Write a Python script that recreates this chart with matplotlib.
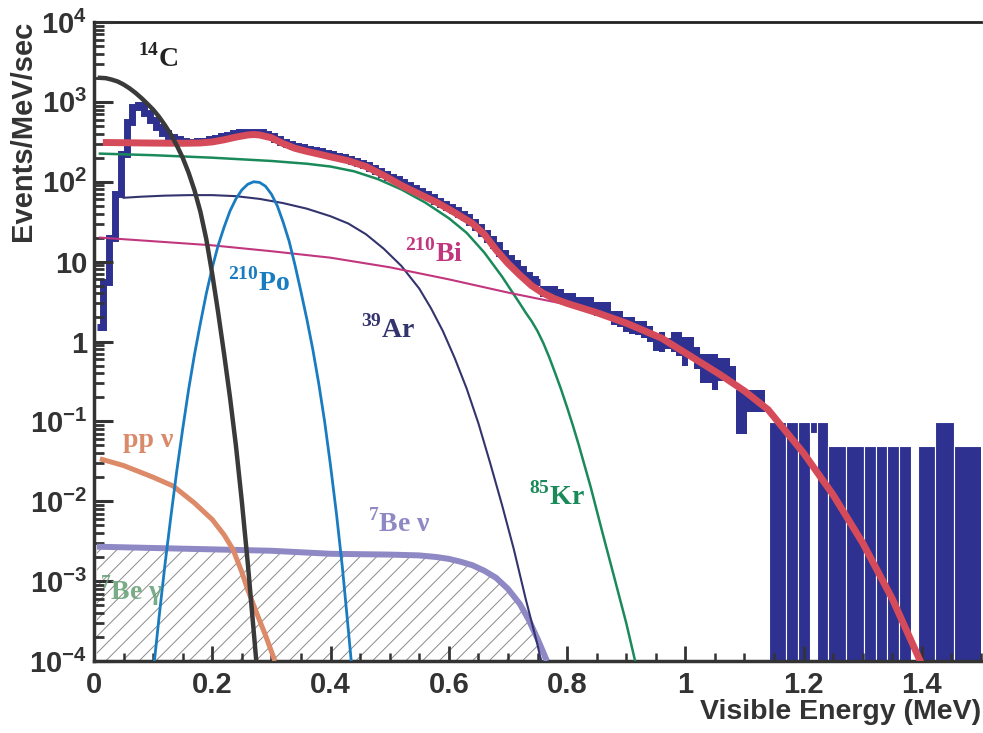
import numpy as np
import matplotlib
matplotlib.use("Agg")
import matplotlib.pyplot as plt
from matplotlib.ticker import LogLocator, NullFormatter, MultipleLocator

plt.rcParams['font.family'] = ['Liberation Sans', 'DejaVu Sans']
plt.rcParams['font.weight'] = 'bold'
plt.rcParams['mathtext.fontset'] = 'custom'
plt.rcParams['mathtext.rm'] = 'Liberation Serif:bold'
plt.rcParams['mathtext.bf'] = 'Liberation Sans:bold'
plt.rcParams['hatch.linewidth'] = 0.7

# --- measured spectrum (0.01 MeV bins, first bin centred at 0.01 MeV) ---
bin_w = 0.01
first_edge = 0.005
hist_val = [1.5, 5.6, 20, 70, 220, 560, 870, 920, 730, 600,
            490, 410, 360, 340, 325, 318, 318, 320, 328, 338,
            352, 370, 388, 405, 418, 425, 425, 418, 400, 375,
            345, 318, 298, 283, 270, 260, 250, 240, 230, 222,
            212, 202, 192, 182, 172, 160, 148, 136, 126, 116,
            107, 98, 90, 83, 76, 70, 64, 58, 53, 48,
            44, 40, 36, 31, 27, 23, 19, 16, 13, 11,
            9.5, 8, 6.8, 6, 5.6]
# bins 0.76 .. 1.13 MeV drawn as error boxes
box_top = [5.0, 4.9, 4.9, 4.5, 4.1, 4.1, 3.6, 3.6, 3.6, 3.1,
           3.1, 3.1, 2.4, 2.4, 2.05, 2.05, 1.8, 1.8, 1.55, 1.15,
           1.33, 1.1, 1.3, 1.3, 1.15, 1.15, 0.85, 0.69, 0.69, 0.69,
           0.63, 0.63, 0.5, 0.25, 0.25, 0.25, 0.25, 0.25]
box_bot = [3.6, 3.5, 3.4, 3.2, 3.0, 2.9, 2.6, 2.5, 2.4, 2.1,
           2.0, 1.9, 1.6, 1.5, 1.3, 1.25, 1.2, 1.1, 1.0, 0.75,
           0.73, 0.8, 0.73, 0.65, 0.5, 0.65, 0.45, 0.3, 0.3, 0.25,
           0.32, 0.32, 0.3, 0.07, 0.07, 0.13, 0.13, 0.13]
# high-energy single-event bins
hi_edges = [1.142, 1.170, 1.191, 1.210, 1.222, 1.241, 1.272, 1.302,
            1.322, 1.341, 1.361, 1.382, 1.394, 1.422, 1.454, 1.503]
hi_top = [0.097, 0.097, 0.097, 0.097, 0.097, 0.049, 0.049, 0.049,
          0.049, 0.049, 0.049, 1e-6, 0.049, 0.097, 0.049]
hi_bot = [1e-6, 1e-6, 1e-6, 0.072, 1e-6, 1e-6, 1e-6, 1e-6,
          1e-6, 1e-6, 1e-6, 1e-6, 1e-6, 1e-6, 1e-6]

# --- fitted components ---
c14_x = [0.01, 0.02, 0.03, 0.04, 0.05, 0.06, 0.07, 0.08, 0.09, 0.10,
         0.11, 0.12, 0.13, 0.14, 0.15, 0.16, 0.17, 0.18, 0.19, 0.20,
         0.21, 0.22, 0.23, 0.24, 0.25, 0.26, 0.27, 0.275]
c14_y = [2000, 1980, 1900, 1800, 1650, 1480, 1300, 1120, 950, 800,
         650, 510, 390, 285, 200, 130, 78, 42, 19, 7,
         2.3, 0.7, 0.2, 0.05, 0.01, 0.0017, 2.4e-4, 9e-5]
po_x = [0.10, 0.11, 0.12, 0.13, 0.14, 0.15, 0.16, 0.17, 0.18, 0.19,
        0.20, 0.21, 0.22, 0.23, 0.24, 0.25, 0.26, 0.27, 0.28, 0.29,
        0.30, 0.31, 0.32, 0.33, 0.34, 0.35, 0.36, 0.37, 0.38, 0.39,
        0.40, 0.41, 0.42, 0.43, 0.44]
po_y = [7e-5, 3.5e-4, 1.6e-3, 6.4e-3, 0.024, 0.08, 0.25, 0.69, 1.7, 4.0,
        8.4, 16, 27, 43, 61, 79, 93, 100, 98, 88,
        70, 50, 31, 18, 9, 4.2, 1.9, 0.8, 0.3, 0.1,
        0.028, 7e-3, 1.5e-3, 2.5e-4, 4e-5]
ar_x = [0.05, 0.08, 0.12, 0.16, 0.20, 0.24, 0.28, 0.32, 0.36, 0.40,
        0.43, 0.46, 0.49, 0.52, 0.55, 0.57, 0.59, 0.61, 0.63, 0.65,
        0.67, 0.69, 0.71, 0.73, 0.75, 0.765]
ar_y = [63, 65, 67, 68, 68, 66, 61, 54, 46, 37,
        30, 22, 14.5, 8.8, 4.6, 2.6, 1.35, 0.62, 0.26, 0.095,
        0.03, 0.009, 0.0025, 6e-4, 1.6e-4, 5e-5]
kr_x = [0.01, 0.10, 0.20, 0.30, 0.36, 0.40, 0.44, 0.48, 0.52, 0.56,
        0.60, 0.63, 0.66, 0.69, 0.72, 0.73, 0.74, 0.75, 0.76, 0.77,
        0.78, 0.79, 0.80, 0.81, 0.82, 0.84, 0.86, 0.88, 0.90, 0.92]
kr_y = [225, 215, 200, 182, 168, 155, 135, 108, 80, 55,
        35, 23, 13, 6.5, 3, 2.3, 1.8, 1.35, 0.95, 0.63,
        0.4, 0.25, 0.15, 0.088, 0.05, 0.015, 0.004, 0.0011, 3e-4, 7e-5]
bi_x = [0.01, 0.1, 0.2, 0.3, 0.4, 0.5, 0.6, 0.7, 0.8, 0.9,
        0.96, 1.0, 1.06, 1.1, 1.14, 1.2, 1.25, 1.3, 1.35, 1.4]
bi_y = [20, 18, 16, 13.5, 11.2, 8.5, 6.0, 4.1, 2.9, 1.7,
        1.1, 0.72, 0.38, 0.24, 0.14, 0.04, 0.012, 0.003, 6e-4, 9e-5]
tot_x = [0.015, 0.05, 0.10, 0.15, 0.18, 0.20, 0.22, 0.24, 0.26, 0.27,
         0.28, 0.30, 0.32, 0.34, 0.36, 0.38, 0.40, 0.43, 0.46, 0.49,
         0.52, 0.55, 0.58, 0.61, 0.64, 0.66, 0.68, 0.70, 0.72, 0.74,
         0.76, 0.78, 0.80, 0.85, 0.90, 0.96, 1.0, 1.06, 1.1, 1.14,
         1.2, 1.25, 1.3, 1.35, 1.4]
tot_y = [310, 308, 305, 303, 306, 315, 335, 362, 385, 390,
         385, 355, 300, 262, 240, 222, 205, 183, 155, 120,
         90, 70, 55, 41, 30, 22, 14, 9.5, 6.8, 5.0,
         4.0, 3.4, 3.0, 2.3, 1.7, 1.1, 0.72, 0.38, 0.24, 0.14,
         0.04, 0.012, 0.003, 6e-4, 9e-5]
pp_x = [0.01, 0.05, 0.10, 0.134, 0.17, 0.20, 0.22, 0.235, 0.25, 0.26,
        0.275, 0.29, 0.306]
pp_y = [0.034, 0.028, 0.02, 0.0155, 0.0095, 0.0059, 0.0038, 0.0025, 0.0013, 7.8e-4,
        4e-4, 2.1e-4, 1e-4]
be_x = [0.005, 0.1, 0.2, 0.3, 0.4, 0.5, 0.55, 0.58, 0.60, 0.62,
        0.64, 0.66, 0.68, 0.70, 0.72, 0.735, 0.75, 0.766]
be_y = [0.0027, 0.0026, 0.0025, 0.0024, 0.0022, 0.00215, 0.0021, 0.002, 0.0019, 0.00175,
        0.00158, 0.00135, 0.0011, 8e-4, 5.2e-4, 3.3e-4, 1.9e-4, 1e-4]

xtick_vals = [0, 0.2, 0.4, 0.6, 0.8, 1.0, 1.2, 1.4]
xtick_labels = ['0', '0.2', '0.4', '0.6', '0.8', '1', '1.2', '1.4']
ytick_vals = [1e-4, 1e-3, 1e-2, 1e-1, 1, 10, 1e2, 1e3, 1e4]
ytick_labels = [r'$\mathbf{10^{-4}}$', r'$\mathbf{10^{-3}}$', r'$\mathbf{10^{-2}}$',
                r'$\mathbf{10^{-1}}$', '1', '10', r'$\mathbf{10^{2}}$',
                r'$\mathbf{10^{3}}$', r'$\mathbf{10^{4}}$']

navy = '#2e3190'
ink = '#333333'

fig = plt.figure(figsize=(9.83, 7.33), dpi=100)
ax = fig.add_axes([0.0956, 0.0982, 0.9024, 0.8718])
ax.set_yscale('log')
ax.set_xlim(0, 1.5)
ax.set_ylim(1e-4, 1e4)

# hatched 7Be gamma region
ax.fill_between(be_x, 1e-4, be_y, facecolor='none', edgecolor='#8a8a8a',
                hatch='//', linewidth=0, zorder=1)

# histogram
n = len(hist_val)
edges = first_edge + bin_w * np.arange(n + 1)
ax.stairs(hist_val, edges, baseline=None, color=navy, linewidth=5, zorder=2)
box_left = edges[-1] + bin_w * np.arange(len(box_top))
ax.bar(box_left, np.array(box_top) - np.array(box_bot), bottom=box_bot,
       width=bin_w, align='edge', color=navy, linewidth=0, zorder=2)
hi_e = np.array(hi_edges)
ax.bar(hi_e[:-1], np.array(hi_top) - np.array(hi_bot), bottom=hi_bot,
       width=np.diff(hi_e), align='edge', color=navy, edgecolor='white',
       linewidth=0.8, zorder=2)

# components
ax.plot(be_x, be_y, color='#8e88c4', lw=4.3, zorder=3, solid_capstyle='butt')
ax.plot(pp_x, pp_y, color='#dd8a68', lw=3.6, zorder=3, solid_capstyle='butt')
ax.plot(kr_x, kr_y, color='#1b8a5a', lw=1.8, zorder=3)
ax.plot(ar_x, ar_y, color='#33336e', lw=1.5, zorder=3)
ax.plot(bi_x, bi_y, color='#c2367e', lw=1.5, zorder=3)
ax.plot(po_x, po_y, color='#1a7cc0', lw=2.0, zorder=3)
ax.plot(tot_x, tot_y, color='#d64b5a', lw=5, zorder=4, solid_capstyle='butt')
ax.plot(c14_x, c14_y, color='#3a3a3a', lw=3.2, zorder=5)

lab = dict(family='Liberation Serif', weight='bold', fontsize=20,
           ha='center', va='center', zorder=6)
ax.text(0.108, 3500, r'$^{14}$C', color='#222222', **lab)
ax.text(0.279, 5.5, r'$^{210}$Po', color='#1a7cc0', **lab)
ax.text(0.497, 1.41, r'$^{39}$Ar', color='#33336e', **lab)
ax.text(0.575, 12.6, r'$^{210}$Bi', color='#c2367e', **lab)
ax.text(0.783, 0.0115, r'$^{85}$Kr', color='#1b8a5a', **lab)
ax.text(0.091, 0.058, 'pp ν', color='#d98a6a', **lab)
ax.text(0.516, 0.0053, r'$^{7}$Be ν', color='#8e88c4', **lab)
ax.text(0.064, 7.5e-4, r'$^{7}$Be γ', color='#6aa37a', alpha=0.9, **lab)

# axes styling
ax.set_xticks(xtick_vals)
ax.set_xticklabels(xtick_labels)
ax.xaxis.set_minor_locator(MultipleLocator(0.05))
ax.set_yticks(ytick_vals)
ax.set_yticklabels(ytick_labels)
ax.yaxis.set_minor_locator(LogLocator(base=10, subs=np.arange(2, 10), numticks=100))
ax.yaxis.set_minor_formatter(NullFormatter())
ax.set_axisbelow(False)
ax.tick_params(which='both', direction='in', colors=ink, top=False, right=False)
ax.tick_params(axis='y', which='major', length=14, width=2.2, labelsize=21, pad=5)
ax.tick_params(axis='y', which='minor', length=7, width=2.0)
ax.tick_params(axis='x', which='major', length=11, width=2.0, labelsize=21, pad=7)
ax.tick_params(axis='x', which='minor', length=6, width=1.8)
for lbl in ax.get_xticklabels() + ax.get_yticklabels():
    lbl.set_color(ink)
    lbl.set_fontweight('bold')
for side in ['left', 'bottom']:
    ax.spines[side].set_linewidth(2.5)
    ax.spines[side].set_color(ink)
ax.spines['top'].set_linewidth(2)
ax.spines['top'].set_color('#222222')
ax.spines['right'].set_visible(False)

ax.set_ylabel('Events/MeV/sec', fontsize=21, fontweight='bold', color=ink)
ax.yaxis.set_label_coords(-0.064, 0.829)
ax.set_xlabel('Visible Energy (MeV)', fontsize=20.5, fontweight='bold', color=ink, loc='right')
ax.xaxis.set_label_coords(1.0, -0.060)

fig.savefig('out.png', dpi=100)
